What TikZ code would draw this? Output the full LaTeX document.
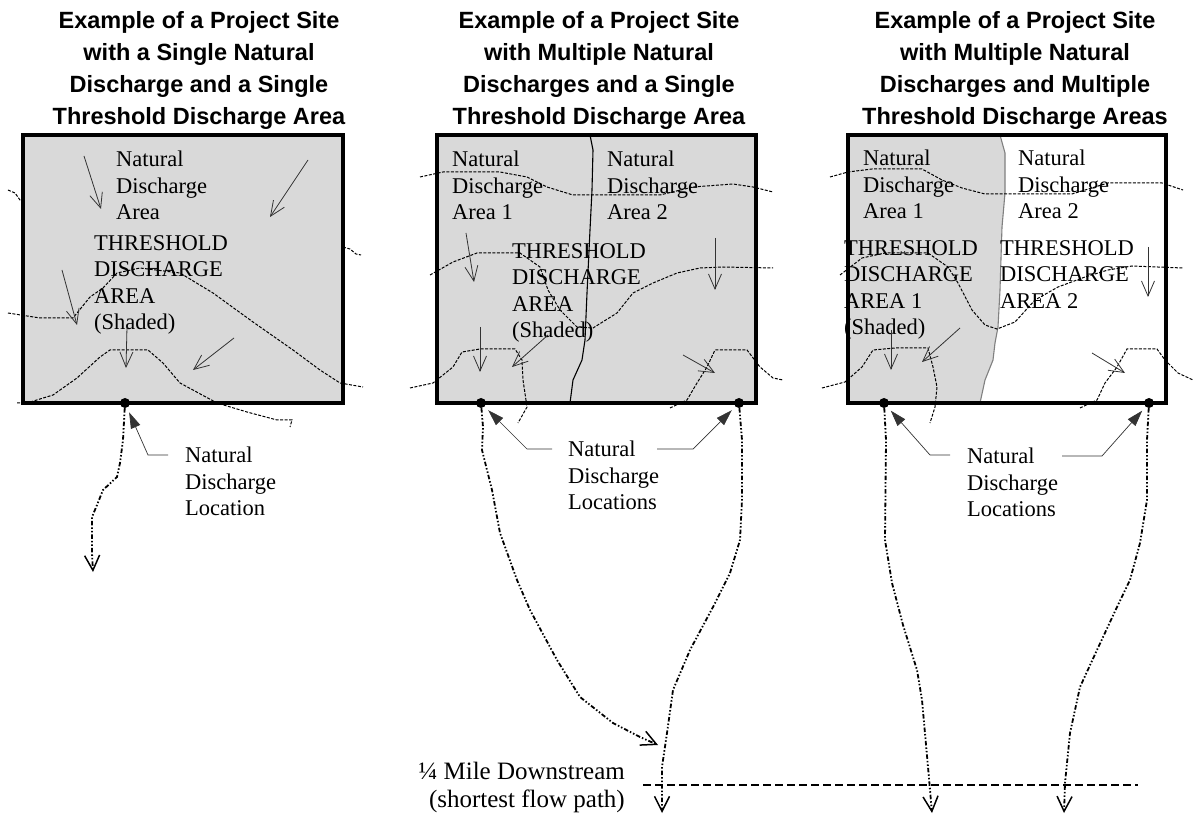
\documentclass[tikz,border=0pt]{standalone}
\usepackage{fontspec}
\setmainfont{Liberation Serif}
\newfontfamily\headfont{Liberation Sans}
\usetikzlibrary{arrows.meta}
\definecolor{siteshade}{HTML}{D9D9D9}

\begin{document}
\begin{tikzpicture}[x=1pt, y=-1pt,
  site/.style={line width=3.5pt},
  title/.style={anchor=north, align=center, inner sep=0pt, font=\headfont\bfseries\fontsize{23.5}{32}\selectfont},
  lbl/.style={anchor=north west, align=left, inner sep=0pt, font=\fontsize{22.5}{26.5}\selectfont},
  contour/.style={line width=1pt, dash pattern=on 3pt off 1.5pt, black},
  divide/.style={line width=1.1pt, black},
  slope/.style={line width=0.8pt, black!80, -{Straight Barb[length=15pt,width=13pt,line width=0.8pt]}},
  outlet/.style={circle, fill=black, inner sep=0pt, minimum size=10pt},
  pointer/.style={line width=0.7pt, black!80, shorten >=5pt, -{Triangle[length=16pt,width=10pt]}},
  flowpath/.style={line width=1.8pt, dash pattern=on 4.5pt off 2pt on 1.5pt off 2pt on 1.5pt off 2pt, -{Straight Barb[length=15pt,width=15pt,line width=1.5pt]}}]
  \useasboundingbox (0,0) rectangle (1195,818);

  % titles
  \node[title] (t1) at (199,11.5) {Example of a Project Site\\with a Single Natural\\Discharge and a Single\\Threshold Discharge Area};
  \node[title] (t2) at (599,11.5) {Example of a Project Site\\with Multiple Natural\\Discharges and a Single\\Threshold Discharge Area};
  \node[title] (t3) at (1015,11.5) {Example of a Project Site\\with Multiple Natural\\Discharges and Multiple\\Threshold Discharge Areas};

  % site 1
  \fill[siteshade] (23,135) rectangle (343,403);
  \draw[contour] (8,190) -- (15,193) -- (20,200) -- (24,202);
  \draw[contour] (343,247) -- (350,249) -- (356,254) -- (361,255);
  \draw[contour] (8,313) -- (40,318) -- (73,318) -- (90,297) -- (103,288) -- (117,273) -- (140,268) -- (180,273) -- (213,293) -- (253,322) -- (293,350) -- (320,370) -- (340,383) -- (363,387);
  \draw[contour] (17,403) -- (27,403) -- (53,395) -- (77,378) -- (100,357) -- (110,350) -- (148,350) -- (163,363) -- (180,383) -- (217,403) -- (247,412) -- (277,420) -- (292,420) -- (290,427);
  \node[lbl] (nda1) at (116,151) {Natural\\Discharge\\Area};
  \node[lbl] (tda1) at (94,235) {THRESHOLD\\DISCHARGE\\AREA\\(Shaded)};
  \draw[slope] (84,156) -- (101,209);
  \draw[slope] (308,160) -- (270,217);
  \draw[slope] (62,270) -- (77,325);
  \draw[slope] (127,327) -- (126,368);
  \draw[slope] (234,338) -- (193,370);
  \draw[site] (23,135) rectangle (343,403);

  % site 2
  \fill[siteshade] (437,135) rectangle (756,403);
  \draw[divide] (590,135) -- (593,150) -- (592,190) -- (590,230) -- (587,293) -- (585,340) -- (582,360) -- (573,380) -- (570,403);
  \draw[contour] (420,177) -- (443,172) -- (500,172) -- (527,177) -- (547,187) -- (573,195) -- (660,195) -- (693,187) -- (733,184) -- (753,187) -- (773,192);
  \draw[contour] (430,275) -- (453,262) -- (477,253) -- (520,253) -- (540,267) -- (548,290) -- (560,310) -- (577,327) -- (593,328) -- (617,313) -- (633,293) -- (653,283) -- (677,273) -- (700,268) -- (723,267) -- (773,268);
  \draw[contour] (410,388) -- (433,383) -- (453,367) -- (462,352) -- (480,349) -- (515,349) -- (522,360) -- (523,380) -- (527,407) -- (518,423);
  \draw[contour] (670,408) -- (687,400) -- (697,383) -- (707,367) -- (715,350) -- (747,350) -- (760,367) -- (773,378) -- (783,380);
  \node[lbl] (nda2a) at (452,151) {Natural\\Discharge\\Area 1};
  \node[lbl] (nda2b) at (607,151) {Natural\\Discharge\\Area 2};
  \node[lbl] (tda2) at (512,243) {THRESHOLD\\DISCHARGE\\AREA\\(Shaded)};
  \draw[slope] (466,233) -- (474,282);
  \draw[slope] (480,327) -- (480,372);
  \draw[slope] (548,335) -- (512,367);
  \draw[slope] (715,238) -- (715,290);
  \draw[slope] (683,355) -- (715,373);
  \draw[site] (437,135) rectangle (756,403);

  % site 3
  \fill[siteshade] (848,135) -- (1000,135) -- (1005,153) -- (1005,193) -- (1002,227) -- (1000,290) -- (998,327) -- (995,343) -- (993,360) -- (985,380) -- (980,403) -- (848,403) -- cycle;
  \draw[divide, black!50] (1000,135) -- (1005,153) -- (1005,193) -- (1002,227) -- (1000,290) -- (998,327) -- (995,343) -- (993,360) -- (985,380) -- (980,403);
  \draw[contour] (830,177) -- (848,172) -- (872,169) -- (922,169) -- (942,180) -- (962,188) -- (985,194) -- (1072,194) -- (1108,183) -- (1162,183) -- (1183,190);
  \draw[contour] (840,275) -- (862,258) -- (885,253) -- (928,253) -- (948,267) -- (958,283) -- (972,310) -- (985,325) -- (997,329) -- (1015,322) -- (1035,300) -- (1058,287) -- (1085,277) -- (1108,270) -- (1132,266) -- (1183,268);
  \draw[contour] (822,388) -- (845,382) -- (862,367) -- (873,350) -- (895,348) -- (928,348) -- (933,367) -- (937,387) -- (935,407) -- (930,423);
  \draw[contour] (1080,408) -- (1097,400) -- (1105,383) -- (1117,367) -- (1127,349) -- (1157,349) -- (1165,360) -- (1178,373) -- (1193,380);
  \node[lbl] (nda3a) at (863,150) {Natural\\Discharge\\Area 1};
  \node[lbl] (nda3b) at (1018,150) {Natural\\Discharge\\Area 2};
  \node[lbl] (tda3a) at (844,240) {THRESHOLD\\DISCHARGE\\AREA 1\\(Shaded)};
  \node[lbl] (tda3b) at (1000,240) {THRESHOLD\\DISCHARGE\\AREA 2};
  \draw[slope] (1148,247) -- (1148,297);
  \draw[slope] (891,330) -- (891,370);
  \draw[slope] (960,328) -- (922,362);
  \draw[slope] (1092,353) -- (1125,373);
  \draw[site] (848,135) rectangle (1166,403);

  % discharge locations
  \node[outlet] (o1) at (125,403) {};
  \node[outlet] (o2) at (481,403) {};
  \node[outlet] (o3) at (739,403) {};
  \node[outlet] (o4) at (884,403) {};
  \node[outlet] (o5) at (1149,403) {};

  \node[lbl] (loc1) at (185,447) {Natural\\Discharge\\Location};
  \node[lbl] (loc2) at (568,441) {Natural\\Discharge\\Locations};
  \node[lbl] (loc3) at (967,448) {Natural\\Discharge\\Locations};

  \coordinate (s1) at (168,455);
  \coordinate (k1) at (148,455);
  \coordinate (s2a) at (552,449);
  \coordinate (k2a) at (527,449);
  \coordinate (s2b) at (657,449);
  \coordinate (k2b) at (693,449);
  \coordinate (s3a) at (950,455);
  \coordinate (k3a) at (930,455);
  \coordinate (s3b) at (1062,456);
  \coordinate (k3b) at (1102,456);
  \draw[pointer] (s1) -- (k1) -- (o1);
  \draw[pointer] (s2a) -- (k2a) -- (o2);
  \draw[pointer] (s2b) -- (k2b) -- (o3);
  \draw[pointer] (s3a) -- (k3a) -- (o4);
  \draw[pointer] (s3b) -- (k3b) -- (o5);

  % flow paths
  \coordinate (e1) at (93,572);
  \coordinate (e2a) at (658,745);
  \coordinate (e2b) at (662,813);
  \coordinate (e3a) at (932,813);
  \coordinate (e3b) at (1064,813);
  \draw[flowpath] (o1) -- (123,440) -- (120,463) -- (117,477) -- (103,490) -- (97,505) -- (92,517) -- (92,553) -- (e1);
  \draw[flowpath] (o2) -- (483,427) -- (482,450) -- (492,490) -- (500,533) -- (517,580) -- (530,610) -- (557,660) -- (580,697) -- (613,723) -- (640,737) -- (e2a);
  \draw[flowpath] (o3) -- (742,440) -- (742,500) -- (740,540) -- (730,573) -- (713,607) -- (690,650) -- (673,690) -- (667,733) -- (662,767) -- (e2b);
  \draw[flowpath] (o4) -- (886,440) -- (885,540) -- (892,583) -- (903,625) -- (917,670) -- (922,700) -- (928,767) -- (e3a);
  \draw[flowpath] (o5) -- (1147,440) -- (1147,500) -- (1140,543) -- (1130,580) -- (1117,607) -- (1097,650) -- (1080,687) -- (1070,733) -- (1065,783) -- (e3b);

  % quarter mile line
  \coordinate (m1) at (643,785);
  \coordinate (m2) at (1138,785);
  \draw[line width=2.6pt, dash pattern=on 8pt off 4pt] (m1) -- (m2);
  \node[anchor=north east, align=right, inner sep=0pt, font=\fontsize{25}{28}\selectfont] (mile) at (625,762) {¼ Mile Downstream\\(shortest flow path)};
\end{tikzpicture}
\end{document}
